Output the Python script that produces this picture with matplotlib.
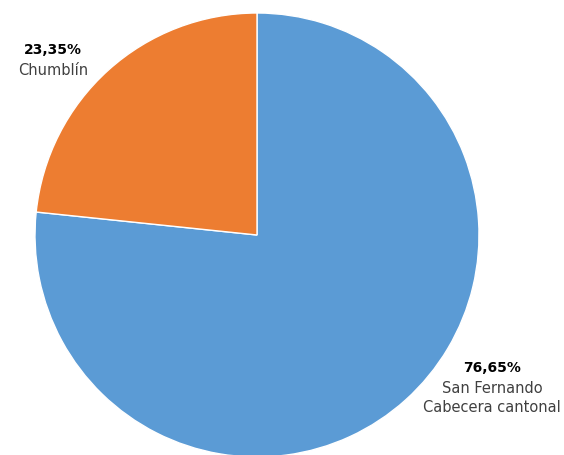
import matplotlib
matplotlib.use("Agg")
import matplotlib.pyplot as plt

# datos
labels = ["San Fernando\nCabecera cantonal", "Chumblín"]
values = [76.65, 23.35]
pct_text = ["76,65%", "23,35%"]
colors = ["#5B9BD5", "#ED7D31"]

W, H = 564, 455
fig = plt.figure(figsize=(W / 100, H / 100), dpi=100)
ax = fig.add_axes([0, 0, 1, 1])

ax.pie(values, colors=colors, startangle=90, counterclock=False,
       center=(257, H - 235), radius=222, frame=True,
       wedgeprops=dict(edgecolor="white", linewidth=1))
ax.set_xlim(0, W)
ax.set_ylim(0, H)
ax.set_aspect("equal")
ax.axis("off")

# etiquetas
pos = [(492, H - 368), (53, H - 50)]
for (x, y), p, lab in zip(pos, pct_text, labels):
    ax.text(x, y, p, ha="center", va="center", fontsize=10, fontweight="bold", color="black")
    ax.text(x, y - 13, lab, ha="center", va="top", fontsize=10.5, color="#404040", linespacing=1.35)

fig.savefig("out.png", dpi=100)
